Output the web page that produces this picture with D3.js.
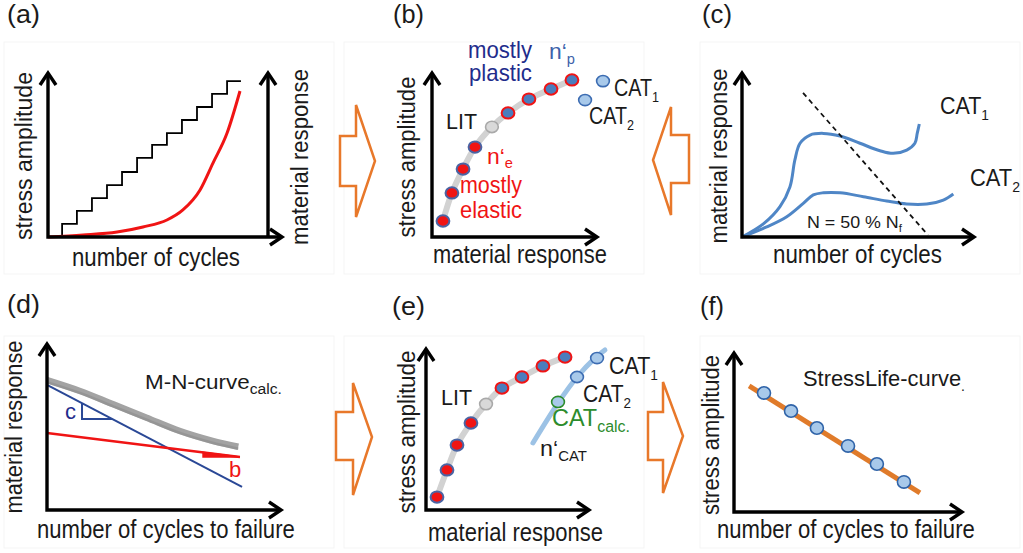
<!DOCTYPE html>
<html><head><meta charset="utf-8">
<script src="https://cdn.jsdelivr.net/npm/d3@7"></script>
<style>html,body{margin:0;padding:0;background:#fff;overflow:hidden}</style>
</head><body>
<script>
// ---------------- DATA (unit-less 0..100 per axis) ----------------
// (a) step loading and material response
const stepCycles    = [0, 6, 12.3, 18.7, 25.1, 31.5, 37.9, 44.3, 50.6, 57, 63.4, 69.8, 76.2, 82.1];
const stepAmplitude = [0, 7.9, 15.8, 23.6, 31.5, 39.4, 47.9, 55.8, 63, 70.9, 78.8, 86.7, 94.5, 94.5];
const responseCycles = [0, 14.9, 29.4, 40.4, 50.6, 57.4, 64.7, 70.2, 76.2, 81.7];
const responseValues = [0, 1.2, 3.0, 6.1, 10.3, 16.4, 28.5, 44.8, 63.0, 88.5];
// (b) cyclic stress-response curve
const bResponse  = [6.6, 12.0, 18.7, 25.9, 36.1, 45.8, 58.4, 71.7, 84.3];
const bAmplitude = [9.7, 26.7, 41.2, 54.5, 66.7, 75.2, 83.6, 89.7, 95.2];
const bKind      = ["e", "e", "e", "e", "lit", "p", "p", "p", "p"];
const bCatResponse  = [103, 92.2];
const bCatAmplitude = [94.5, 83.0];
// (c) constant amplitude tests
const cat1Cycles   = [0, 9.3, 16.3, 20.6, 22.7, 24.9, 29.2, 34.9, 42.1, 50.6, 59.2, 64.9, 70.7, 74.2, 75.2, 76.1];
const cat1Response = [0, 8.1, 18.4, 30.5, 46.7, 56.8, 61.8, 62.8, 61.2, 56.8, 52.3, 50.7, 52.7, 56.8, 62.8, 68.5];
const cat2Cycles   = [0, 10.6, 19.2, 26.3, 30.6, 34.9, 42.1, 52.1, 62.1, 70.7, 79.3, 86.4, 90.7];
const cat2Response = [0, 6.1, 12.3, 20.4, 25.5, 26.8, 26.8, 24.4, 21.8, 20.0, 20.0, 22.4, 26.1];
const halfLifeCycles   = [26.2, 79.8];
const halfLifeResponse = [87.3, 1.2];
// (d) M-N curve
const mnCycles   = [0, 14.0, 28.2, 42.4, 56.6, 70.8, 81.4];
const mnResponse = [77.8, 71.3, 63.3, 55.3, 47.3, 41.3, 37.9];
const plasticCycles   = [0, 83.0];
const plasticResponse = [74.9, 13.8];
const elasticCycles   = [0, 82.1];
const elasticResponse = [46.1, 31.7];
const cTriangleCycles = [14.9, 27.7];
const bTriangleCycles = [66.4, 82.1];
// (e) CAT response curve
const eResponse  = [6.7, 12.8, 18.9, 27.4, 36.6, 46.3, 58.5, 71.3, 84.8];
const eAmplitude = [8.0, 24.7, 40.1, 53.7, 65.4, 75.3, 82.1, 88.9, 94.4];
const eKind      = ["e", "e", "e", "e", "lit", "p", "p", "p", "p"];
const catCurveResponse  = [65.2, 80.5, 92.1, 103.0, 109.1];
const catCurveAmplitude = [41.4, 66.0, 82.1, 93.8, 98.8];
const eCatResponse  = [104.3, 92.1, 80.5];
const eCatAmplitude = [93.8, 82.1, 66.7];
const eCatKind      = ["cat", "cat", "calc"];
// (f) stress-life curve
const slLineCycles    = [6.6, 81.2];
const slLineAmplitude = [78.8, 11.9];
const slCycles    = [13.1, 24.9, 36.2, 49.8, 62.4, 74.2];
const slAmplitude = [74.4, 63.1, 52.5, 41.3, 30.0, 18.8];

// ---------------- LAYOUT ----------------
const W = 1023, H = 553;
const FONT = '"Liberation Sans", Arial, Helvetica, sans-serif';
const RED = "#f01414", NAVY = "#1f2d8c", DOTBLUE = "#4a7dbd", DOTEDGE = "#4a64a4";
const CATFILL = "#a8c9ea", CATEDGE = "#3c6cb2", ORANGE = "#e8782a", GREEN = "#2c8c2c";

const svg = d3.select("body").append("svg").attr("width", W).attr("height", H);
svg.append("rect").attr("width", W).attr("height", H).attr("fill", "#fff");

// faint panel frames
[[4, 42, 330, 232], [344, 42, 300, 232], [700, 42, 320, 232],
 [4, 336, 330, 212], [344, 336, 300, 212], [700, 336, 320, 212]].forEach(r =>
  svg.append("rect").attr("x", r[0]).attr("y", r[1]).attr("width", r[2]).attr("height", r[3])
    .attr("fill", "none").attr("stroke", "#f5f5f5").attr("stroke-width", 1));

const panels = {
  a: {ox: 48, oy: 237, xt: 283, yt: 72},
  b: {ox: 432, oy: 237, xt: 598, yt: 72},
  c: {ox: 742, oy: 237, xt: 975, yt: 72},
  d: {ox: 47, oy: 510, xt: 282, yt: 343},
  e: {ox: 426, oy: 510, xt: 590, yt: 348},
  f: {ox: 734, oy: 512, xt: 963, yt: 352}
};
function scalesFor(p) {
  return {
    x: d3.scaleLinear().domain([0, 100]).range([p.ox, p.xt]),
    y: d3.scaleLinear().domain([0, 100]).range([p.oy, p.yt])
  };
}
const S = {};
Object.keys(panels).forEach(k => S[k] = scalesFor(panels[k]));

// text with optional subscript parts, horizontally fitted to a measured width
function txt(parts, x, y, o = {}) {
  if (typeof parts === "string") parts = [[parts]];
  const size = o.size || 25;
  const t = svg.append("text").attr("font-family", FONT).attr("font-size", size)
    .attr("fill", o.fill || "#1a1a1a");
  let sub = false;
  const off = size * (o.subOff || 0.24);
  parts.forEach(([s, kind]) => {
    const ts = t.append("tspan").text(s);
    if (kind === "sub") {
      ts.attr("font-size", size * (o.subScale || 0.64));
      if (!sub) { ts.attr("dy", off); sub = true; }
    } else if (sub) { ts.attr("dy", -off); sub = false; }
  });
  t.attr("text-anchor", o.rot ? "middle" : (o.anchor || "start"));
  let sx = 1;
  if (o.len) { const w = t.node().getComputedTextLength(); if (w > 0) sx = o.len / w; }
  t.attr("transform", `translate(${x},${y})${o.rot ? " rotate(-90)" : ""} scale(${sx},1)`);
  return t;
}

function drawAxes(p, extraX) {
  const g = svg.append("g").attr("fill", "none").attr("stroke", "#000")
    .attr("stroke-width", 3.4).attr("stroke-linejoin", "miter").attr("stroke-linecap", "butt");
  g.append("path").attr("d", `M${p.ox},${p.yt + 2} L${p.ox},${p.oy} L${p.xt - 2},${p.oy}`);
  g.append("path").attr("d", `M${p.ox - 8},${p.yt + 13} L${p.ox},${p.yt + 1} L${p.ox + 8},${p.yt + 13}`);
  g.append("path").attr("d", `M${p.xt - 13},${p.oy - 8} L${p.xt - 1},${p.oy} L${p.xt - 13},${p.oy + 8}`);
  if (extraX !== undefined) {
    g.append("path").attr("d", `M${extraX},${p.yt + 2} L${extraX},${p.oy}`);
    g.append("path").attr("d", `M${extraX - 8},${p.yt + 13} L${extraX},${p.yt + 1} L${extraX + 8},${p.yt + 13}`);
  }
}

function lineOf(s, xs, ys, curve) {
  const l = d3.line().x(d => s.x(d[0])).y(d => s.y(d[1]));
  if (curve) l.curve(curve);
  return l(d3.zip(xs, ys));
}

// ---------------- PANEL (a) ----------------
(function () {
  const p = panels.a, s = S.a;
  svg.append("path").attr("d", lineOf(s, stepCycles, stepAmplitude, d3.curveStepAfter))
    .attr("fill", "none").attr("stroke", "#000").attr("stroke-width", 1.8);
  svg.append("path").attr("d", lineOf(s, responseCycles, responseValues, d3.curveMonotoneX))
    .attr("fill", "none").attr("stroke", RED).attr("stroke-width", 3);
  drawAxes(p, 268);
  txt("(a)", 7, 23, {size: 25, len: 33});
  txt("stress amplitude", 32, 156, {rot: true, size: 24, len: 168});
  txt("material response", 308, 157, {rot: true, size: 24, len: 176});
  txt("number of cycles", 72, 266, {len: 168});
})();

// ---------------- points helper ----------------
function stressResponsePanel(s, resp, amp, kind, r) {
  svg.append("path").attr("d", lineOf(s, resp, amp, d3.curveCatmullRom))
    .attr("fill", "none").attr("stroke", "#d2d2d2").attr("stroke-width", 6).attr("stroke-linecap", "round");
  d3.zip(resp, amp, kind).forEach(([x, y, k]) => {
    const c = svg.append("ellipse").attr("cx", s.x(x)).attr("cy", s.y(y)).attr("rx", r).attr("ry", r * 0.88);
    if (k === "e") c.attr("fill", RED).attr("stroke", DOTEDGE).attr("stroke-width", 2);
    else if (k === "p") c.attr("fill", DOTBLUE).attr("stroke", RED).attr("stroke-width", 2);
    else c.attr("fill", "#d9d9d9").attr("stroke", "#a9a9a9").attr("stroke-width", 1.6);
  });
}

// ---------------- PANEL (b) ----------------
(function () {
  const p = panels.b, s = S.b;
  drawAxes(p);
  stressResponsePanel(s, bResponse, bAmplitude, bKind, 6.4);
  d3.zip(bCatResponse, bCatAmplitude).forEach(([x, y]) =>
    svg.append("ellipse").attr("cx", s.x(x)).attr("cy", s.y(y)).attr("rx", 6.4).attr("ry", 5.6)
      .attr("fill", CATFILL).attr("stroke", CATEDGE).attr("stroke-width", 1.6));
  txt("(b)", 393, 23, {size: 25, len: 31});
  txt("stress amplitude", 415, 157, {rot: true, size: 24, len: 161});
  txt("material response", 433, 263, {len: 174});
  txt("mostly", 468, 58, {size: 23, fill: NAVY, len: 64});
  txt("plastic", 469, 81, {size: 23, fill: NAVY, len: 63});
  txt([["n‘"], ["p", "sub"]], 549, 59, {size: 22, fill: "#3d62aa", len: 26});
  txt([["CAT"], ["1", "sub"]], 614, 96, {size: 23, len: 45});
  txt([["CAT"], ["2", "sub"]], 589, 124, {size: 23, len: 45});
  txt("LIT", 446, 129, {size: 22, len: 31});
  txt([["n‘"], ["e", "sub"]], 487, 164, {size: 22, fill: RED, len: 26, subOff: 0.18});
  txt("mostly", 460, 193, {size: 23, fill: RED, len: 62});
  txt("elastic", 460, 218, {size: 23, fill: RED, len: 62});
})();

// ---------------- PANEL (c) ----------------
(function () {
  const p = panels.c, s = S.c;
  svg.append("path").attr("d", lineOf(s, cat1Cycles, cat1Response, d3.curveCatmullRom))
    .attr("fill", "none").attr("stroke", "#4f86c6").attr("stroke-width", 3);
  svg.append("path").attr("d", lineOf(s, cat2Cycles, cat2Response, d3.curveCatmullRom))
    .attr("fill", "none").attr("stroke", "#4f86c6").attr("stroke-width", 3);
  svg.append("path").attr("d", lineOf(s, halfLifeCycles, halfLifeResponse))
    .attr("fill", "none").attr("stroke", "#111").attr("stroke-width", 1.8).attr("stroke-dasharray", "5,4");
  drawAxes(p);
  txt("(c)", 702, 23, {size: 25, len: 30});
  txt("material response", 727, 156, {rot: true, size: 24, len: 175});
  txt("number of cycles", 773, 263, {len: 169});
  txt([["CAT"], ["1", "sub"]], 940, 114, {size: 23, len: 49});
  txt([["CAT"], ["2", "sub"]], 970, 186, {size: 23, len: 50});
  txt([["N = 50 % N"], ["f", "sub"]], 807, 228, {size: 17, len: 95});
})();

// ---------------- PANEL (d) ----------------
(function () {
  const p = panels.d, s = S.d;
  svg.append("path").attr("d", lineOf(s, mnCycles, mnResponse, d3.curveCatmullRom))
    .attr("fill", "none").attr("stroke", "#a3a3a3").attr("stroke-width", 6.5);
  svg.append("path").attr("d", lineOf(s, mnCycles, mnResponse.map(v => v - 1.2), d3.curveCatmullRom))
    .attr("fill", "none").attr("stroke", "#8c8c8c").attr("stroke-width", 2.5).attr("opacity", 0.6);
  // plastic (blue) line and slope triangle c
  const plastic = d3.scaleLinear().domain(plasticCycles).range(plasticResponse);
  svg.append("path").attr("d", lineOf(s, plasticCycles, plasticResponse))
    .attr("fill", "none").attr("stroke", "#2a4896").attr("stroke-width", 2);
  const c0 = cTriangleCycles[0], c1 = cTriangleCycles[1];
  svg.append("path").attr("d", `M${s.x(c0)},${s.y(plastic(c0))} L${s.x(c0)},${s.y(plastic(c1))} L${s.x(c1)},${s.y(plastic(c1))}`)
    .attr("fill", "none").attr("stroke", "#2a4896").attr("stroke-width", 2);
  // elastic (red) line and slope triangle b
  const elastic = d3.scaleLinear().domain(elasticCycles).range(elasticResponse);
  svg.append("path").attr("d", lineOf(s, elasticCycles, elasticResponse))
    .attr("fill", "none").attr("stroke", RED).attr("stroke-width", 2.4);
  const b0 = bTriangleCycles[0], b1 = bTriangleCycles[1];
  svg.append("path").attr("d", `M${s.x(b0)},${s.y(elastic(b0))} L${s.x(b0)},${s.y(elastic(b1))} L${s.x(b1)},${s.y(elastic(b1))} Z`)
    .attr("fill", RED).attr("stroke", RED).attr("stroke-width", 1.5);
  drawAxes(p);
  txt("(d)", 7, 313, {size: 25, len: 33});
  txt("material response", 22, 427, {rot: true, size: 23, len: 173});
  txt("number of cycles to failure", 37, 538, {len: 258});
  txt([["M-N-curve"], ["calc.", "sub"]], 145, 389, {size: 21, len: 137, subScale: 0.7});
  txt("c", 65, 419, {size: 22, fill: NAVY});
  txt("b", 229, 477, {size: 22, fill: RED});
})();

// ---------------- PANEL (e) ----------------
(function () {
  const p = panels.e, s = S.e;
  drawAxes(p);
  stressResponsePanel(s, eResponse, eAmplitude, eKind, 6.4);
  svg.append("path").attr("d", lineOf(s, catCurveResponse, catCurveAmplitude, d3.curveCatmullRom))
    .attr("fill", "none").attr("stroke", "#9cc2e5").attr("stroke-width", 5).attr("stroke-linecap", "round");
  d3.zip(eCatResponse, eCatAmplitude, eCatKind).forEach(([x, y, k]) =>
    svg.append("ellipse").attr("cx", s.x(x)).attr("cy", s.y(y)).attr("rx", 6.4).attr("ry", 5.6)
      .attr("fill", CATFILL).attr("stroke", k === "calc" ? GREEN : CATEDGE).attr("stroke-width", 1.6));
  txt("(e)", 392, 315, {size: 25, len: 33});
  txt("stress amplitude", 415, 432, {rot: true, size: 24, len: 163});
  txt("material response", 428, 541, {len: 175});
  txt("LIT", 441, 405, {size: 22, len: 31});
  txt([["CAT"], ["1", "sub"]], 609, 374, {size: 23, len: 49});
  txt([["CAT"], ["2", "sub"]], 583, 402, {size: 23, len: 48});
  txt([["CAT"], ["calc.", "sub"]], 552, 426, {size: 23, fill: GREEN, len: 78, subScale: 0.68});
  txt([["n‘"], ["CAT", "sub"]], 540, 456, {size: 22, len: 47});
})();

// ---------------- PANEL (f) ----------------
(function () {
  const p = panels.f, s = S.f;
  svg.append("path").attr("d", lineOf(s, slLineCycles, slLineAmplitude))
    .attr("fill", "none").attr("stroke", "#e07b2a").attr("stroke-width", 5);
  d3.zip(slCycles, slAmplitude).forEach(([x, y]) =>
    svg.append("ellipse").attr("cx", s.x(x)).attr("cy", s.y(y)).attr("rx", 6.5).attr("ry", 6.2)
      .attr("fill", CATFILL).attr("stroke", "#2f63a8").attr("stroke-width", 1.6));
  drawAxes(p);
  txt("(f)", 700, 315, {size: 25, len: 24});
  txt("stress amplitude", 719, 435, {rot: true, size: 24, len: 160});
  txt("number of cycles to failure", 717, 538, {len: 258});
  txt([["StressLife-curve"], [".", "sub"]], 803, 386, {size: 22, len: 162});
})();

// ---------------- transition arrows ----------------
[
  [[340,136],[356,136],[356,105],[375,161],[356,217],[356,186],[340,186]],
  [[689,135],[671,135],[671,107],[653,160],[671,215],[671,183],[689,183]],
  [[336,412],[353,412],[353,383],[372,437],[353,495],[353,460],[336,460]],
  [[648,412],[663,412],[663,382],[683,436],[663,493],[663,460],[648,460]]
].forEach(pts =>
  svg.append("path").attr("d", d3.line()(pts) + "Z")
    .attr("fill", "#fff").attr("stroke", ORANGE).attr("stroke-width", 2.5).attr("stroke-linejoin", "miter"));
</script>
</body></html>
